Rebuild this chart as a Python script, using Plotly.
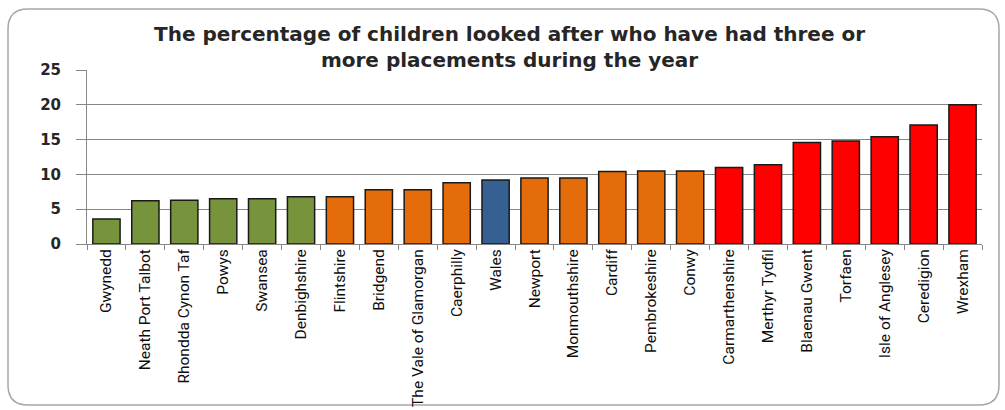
import plotly.graph_objects as go

categories = ["Gwynedd", "Neath Port Talbot", "Rhondda Cynon Taf", "Powys", "Swansea",
              "Denbighshire", "Flintshire", "Bridgend", "The Vale of Glamorgan", "Caerphilly",
              "Wales", "Newport", "Monmouthshire", "Cardiff", "Pembrokeshire", "Conwy",
              "Carmarthenshire", "Merthyr Tydfil", "Blaenau Gwent", "Torfaen",
              "Isle of Anglesey", "Ceredigion", "Wrexham"]
values = [3.6, 6.2, 6.3, 6.5, 6.5, 6.8, 6.8, 7.8, 7.8, 8.8, 9.2, 9.5, 9.5, 10.4, 10.5, 10.5,
          11.0, 11.4, 14.6, 14.8, 15.4, 17.1, 20.0]
groups = ["low"] * 6 + ["mid"] * 4 + ["wales"] + ["mid"] * 5 + ["high"] * 7
group_colors = {"low": "#77933C", "mid": "#E46C0A", "wales": "#376092", "high": "#FF0000"}
y_ticks = [0, 5, 10, 15, 20, 25]

W, H = 1005, 410
ml, mr, mt, mb = 87, 23, 70, 166

fig = go.Figure(go.Bar(
    x=categories, y=values,
    marker=dict(color=[group_colors[g] for g in groups],
                line=dict(color="#1a1a1a", width=1.5)),
    width=0.7,
))

pw = W - ml - mr
ph = H - mt - mb
def px_x(p):
    return (p - ml) / pw
def px_y(p):
    return (H - mb - p) / ph

# rounded chart border
x0, x1, y0, y1, r = 8, 999, 9, 405, 20
path = (f"M {px_x(x0 + r)},{px_y(y0)} L {px_x(x1 - r)},{px_y(y0)} "
        f"Q {px_x(x1)},{px_y(y0)} {px_x(x1)},{px_y(y0 + r)} "
        f"L {px_x(x1)},{px_y(y1 - r)} Q {px_x(x1)},{px_y(y1)} {px_x(x1 - r)},{px_y(y1)} "
        f"L {px_x(x0 + r)},{px_y(y1)} Q {px_x(x0)},{px_y(y1)} {px_x(x0)},{px_y(y1 - r)} "
        f"L {px_x(x0)},{px_y(y0 + r)} Q {px_x(x0)},{px_y(y0)} {px_x(x0 + r)},{px_y(y0)} Z")

fig.update_layout(
    width=W, height=H,
    margin=dict(l=ml, r=mr, t=mt, b=mb, autoexpand=False),
    paper_bgcolor="white", plot_bgcolor="white",
    showlegend=False,
    title=dict(
        text="The percentage of children looked after who have had three or<br>more placements during the year",
        x=0.507, xanchor="center", y=0.9, yanchor="top",
        font=dict(family="DejaVu Sans", size=20, color="#262626", weight="bold"),
    ),
    shapes=[dict(type="path", path=path, xref="paper", yref="paper",
                 line=dict(color="#a6a6a6", width=1.5), layer="below")],
    xaxis=dict(
        automargin=False,
        tickangle=-90, tickfont=dict(family="Liberation Sans Narrow, Roboto", size=15.5, color="#0d0d0d"),
        ticklabelstandoff=-2,
        showline=True, linecolor="#868686", linewidth=1,
        ticks="outside", ticklen=5, tickcolor="#868686", tickson="boundaries",
        showgrid=False,
    ),
    yaxis=dict(
        automargin=False,
        range=[0, 25], tickvals=y_ticks, ticktext=[str(v) for v in y_ticks],
        tickfont=dict(family="DejaVu Sans", size=15, color="#262626", weight="bold"),
        ticklabelstandoff=12,
        showgrid=True, gridcolor="#868686", gridwidth=1,
        showline=True, linecolor="#868686", linewidth=1,
        ticks="outside", ticklen=10, tickcolor="#868686",
        zeroline=False,
    ),
)

fig.write_html("out.html")
